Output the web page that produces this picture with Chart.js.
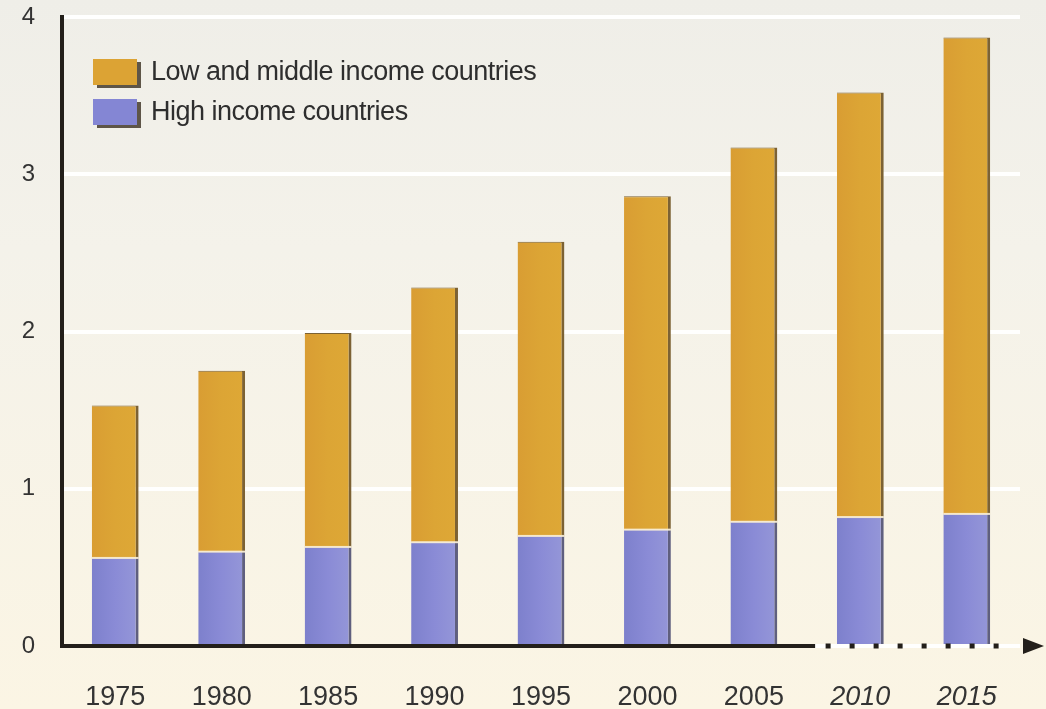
<!DOCTYPE html>
<html>
<head>
<meta charset="utf-8">
<script src="https://cdn.jsdelivr.net/npm/chart.js@4.4.0/dist/chart.umd.min.js"></script>
<style>
  html, body { margin: 0; padding: 0; }
  body { width: 1046px; height: 709px; position: relative; overflow: hidden;
         background: linear-gradient(#efeee8 0%, #f4f2ea 35%, #fbf5e4 100%); }
  #chart { position: absolute; left: 0; top: 0; }
  .legend { position: absolute; left: 93px; font-family: "Liberation Sans", sans-serif;
            font-size: 27px; letter-spacing: -0.5px; color: #2e2e2e; display: flex; align-items: center; }
  .legend span.box { width: 44px; height: 26px; margin-right: 14px; box-shadow: 4px 3px 0 #5e5548; }
</style>
</head>
<body>
<canvas id="chart" width="1046" height="709"></canvas>
<div class="legend" style="top:56px"><span class="box" style="background:#dca334"></span>Low and middle income countries</div>
<div class="legend" style="top:96px"><span class="box" style="background:#8486d4"></span>High income countries</div>
<script>
// billions of people, five-year steps (2010 and 2015 are projections)
const years = ['1975', '1980', '1985', '1990', '1995', '2000', '2005', '2010', '2015'];
const highIncome = [0.56, 0.60, 0.63, 0.66, 0.70, 0.74, 0.79, 0.82, 0.84];
const totals = [1.53, 1.75, 1.99, 2.28, 2.57, 2.86, 3.17, 3.52, 3.87];
const lowMiddleIncome = totals.map((t, i) => +(t - highIncome[i]).toFixed(2));
const yTicks = [0, 1, 2, 3, 4];
const projectedFrom = 7;

const BAR_PCT = 0.44;
const FONT = '"Liberation Sans", sans-serif';

function barGradient(c, stops) {
  const chart = c.chart;
  const xs = chart.scales.x;
  if (!xs || !chart.chartArea) return stops[1];
  const cx = xs.getPixelForValue(c.dataIndex);
  const half = (xs.width / years.length) * BAR_PCT / 2;
  const g = chart.ctx.createLinearGradient(cx - half, 0, cx + half, 0);
  g.addColorStop(0, stops[0]);
  g.addColorStop(0.5, stops[1]);
  g.addColorStop(1, stops[2]);
  return g;
}

// dark base line: solid for observed years, dotted for projections, arrow at the end
const axisLine = {
  id: 'axisLine',
  afterDraw(chart) {
    const { ctx, chartArea, scales } = chart;
    const y = scales.y.getPixelForValue(0);
    const split = scales.x.getPixelForValue(projectedFrom - 0.5) + 8;
    ctx.save();
    ctx.strokeStyle = '#231f1a';
    ctx.fillStyle = '#231f1a';
    ctx.lineWidth = 4;
    ctx.beginPath();
    ctx.moveTo(chartArea.left - 2, y);
    ctx.lineTo(split, y);
    ctx.stroke();
    for (let x = split + 13; x < chartArea.right - 12; x += 24) {
      ctx.fillRect(x - 2.5, y - 2.5, 5, 5);
    }
    ctx.beginPath();
    ctx.moveTo(chartArea.right + 3, y - 8);
    ctx.lineTo(chartArea.right + 24, y);
    ctx.lineTo(chartArea.right + 3, y + 8);
    ctx.closePath();
    ctx.fill();
    // thin light seam between the two stacked segments
    const meta = chart.getDatasetMeta(0);
    ctx.fillStyle = 'rgba(250,240,215,0.9)';
    meta.data.forEach(bar => {
      ctx.fillRect(bar.x - bar.width / 2, bar.y - 1, bar.width, 2);
    });
    ctx.restore();
  }
};

new Chart(document.getElementById('chart'), {
  type: 'bar',
  data: {
    labels: years,
    datasets: [
      {
        label: 'High income countries',
        data: highIncome,
        backgroundColor: c => barGradient(c, ['#7d80cc', '#8a8bd6', '#9597d8']),
        borderColor: '#5f5f7e',
        borderWidth: { left: 0, right: 3, top: 0, bottom: 0 },
        borderSkipped: false,
        barPercentage: BAR_PCT,
        categoryPercentage: 1
      },
      {
        label: 'Low and middle income countries',
        data: lowMiddleIncome,
        backgroundColor: c => barGradient(c, ['#d99d33', '#dca535', '#dea836']),
        borderColor: '#7c6234',
        borderWidth: { left: 0, right: 3, top: 1, bottom: 0 },
        borderSkipped: false,
        barPercentage: BAR_PCT,
        categoryPercentage: 1
      }
    ]
  },
  options: {
    responsive: false,
    animation: false,
    layout: { padding: { top: 17, right: 26, bottom: 0, left: 0 } },
    plugins: { legend: { display: false }, tooltip: { enabled: false } },
    scales: {
      x: {
        stacked: true,
        grid: { display: false },
        border: { display: false },
        ticks: {
          padding: 27,
          color: '#333',
          font: c => ({
            family: FONT,
            size: 27,
            style: c.index >= projectedFrom ? 'italic' : 'normal'
          })
        },
        afterFit: s => { s.height = 63; s.paddingTop = 0; s.paddingBottom = 0; }
      },
      y: {
        stacked: true,
        min: 0,
        max: 4,
        afterBuildTicks: s => { s.ticks = yTicks.map(v => ({ value: v })); },
        grid: { color: 'rgba(255,255,255,0.95)', lineWidth: 4, drawTicks: false },
        border: { display: true, color: '#231f1a', width: 4 },
        ticks: {
          padding: 27,
          color: '#333',
          font: { family: FONT, size: 24 }
        },
        afterFit: s => { s.width = 62; s.paddingTop = 0; s.paddingBottom = 0; }
      }
    }
  },
  plugins: [axisLine]
});
</script>
</body>
</html>
